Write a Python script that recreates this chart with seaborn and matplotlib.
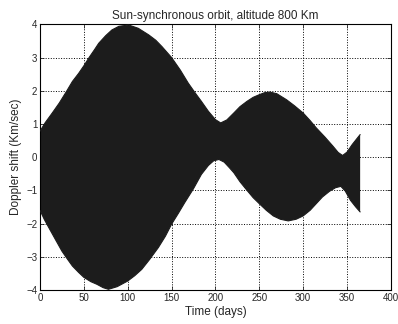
import numpy as np
import pandas as pd
import seaborn as sns
import matplotlib
matplotlib.use("Agg")
import matplotlib.pyplot as plt

# envelope of the Doppler shift (days, Km/sec)
upper_days = [0, 6, 14, 22, 30, 37, 44, 50, 56, 62, 67, 75, 82, 90, 101, 112,
              124, 132, 139, 150, 160, 169, 177, 184, 192, 200, 206, 213, 221,
              228, 236, 243, 250, 256, 262, 270, 281, 290, 300, 308, 315, 325,
              334, 340, 345, 350, 356, 365]
upper_vals = [0.78, 1.04, 1.33, 1.63, 1.97, 2.28, 2.52, 2.75, 3.0, 3.23, 3.43,
              3.66, 3.83, 3.94, 3.98, 3.88, 3.68, 3.52, 3.33, 3.0, 2.62, 2.23,
              1.93, 1.68, 1.38, 1.13, 1.03, 1.12, 1.33, 1.52, 1.68, 1.80, 1.88,
              1.94, 1.96, 1.91, 1.73, 1.55, 1.33, 1.1, 0.88, 0.6, 0.33, 0.14,
              0.05, 0.15, 0.38, 0.68]
lower_days = [0, 5, 10, 18, 25, 31, 37, 44, 50, 58, 65, 72, 78, 88, 100, 108,
              116, 125, 135, 143, 150, 158, 165, 175, 184, 192, 198, 204, 210,
              216, 221, 228, 236, 243, 250, 258, 266, 274, 283, 292, 300, 308,
              315, 322, 330, 337, 343, 348, 354, 360, 365]
lower_vals = [-1.6, -1.88, -2.12, -2.5, -2.83, -3.06, -3.28, -3.47, -3.62,
              -3.75, -3.83, -3.93, -3.98, -3.9, -3.73, -3.57, -3.38, -3.08,
              -2.72, -2.38, -2.02, -1.68, -1.37, -0.95, -0.52, -0.25, -0.11,
              -0.07, -0.15, -0.32, -0.47, -0.74, -1.0, -1.22, -1.4, -1.6,
              -1.77, -1.87, -1.92, -1.87, -1.77, -1.6, -1.4, -1.2, -1.03,
              -0.92, -0.88, -1.02, -1.3, -1.5, -1.65]

x_ticks = [0, 50, 100, 150, 200, 250, 300, 350, 400]
y_ticks = [-4, -3, -2, -1, 0, 1, 2, 3, 4]

sns.set_style("ticks")
plt.rcParams['font.family'] = ['Liberation Sans', 'DejaVu Sans']

fig = plt.figure(figsize=(3.98, 3.24), dpi=100)
ax = fig.add_axes([0.1005, 0.105, 0.8815, 0.82])

df_up = pd.DataFrame({'day': upper_days, 'shift': upper_vals})
df_lo = pd.DataFrame({'day': lower_days, 'shift': lower_vals})
dark = '#1c1c1c'

# filled band between the envelopes (the dense oscillation)
ax.fill(list(df_up['day']) + list(df_lo['day'])[::-1],
        list(df_up['shift']) + list(df_lo['shift'])[::-1],
        color=dark, lw=0, zorder=2)
sns.lineplot(data=df_up, x='day', y='shift', ax=ax, color=dark, lw=0.8, zorder=3)
sns.lineplot(data=df_lo, x='day', y='shift', ax=ax, color=dark, lw=0.8, zorder=3)

ax.set_xlim(0, 400)
ax.set_ylim(-4, 4)
ax.set_xticks(x_ticks)
ax.set_yticks(y_ticks)
ax.grid(True, color='black', linestyle=':', linewidth=0.7, zorder=1)
ax.set_axisbelow(True)
ax.tick_params(direction='in', length=3, width=0.6, labelsize=7, pad=2,
               top=True, right=True)
for s in ax.spines.values():
    s.set_visible(True)
    s.set_linewidth(0.8)
    s.set_color('black')

ax.set_title("Sun-synchronous orbit, altitude 800 Km", fontsize=8.5, pad=4)
ax.set_xlabel("Time (days)", fontsize=8.5, labelpad=2)
ax.set_ylabel("Doppler shift (Km/sec)", fontsize=8.5, labelpad=3)

fig.savefig("out.png", dpi=100)
